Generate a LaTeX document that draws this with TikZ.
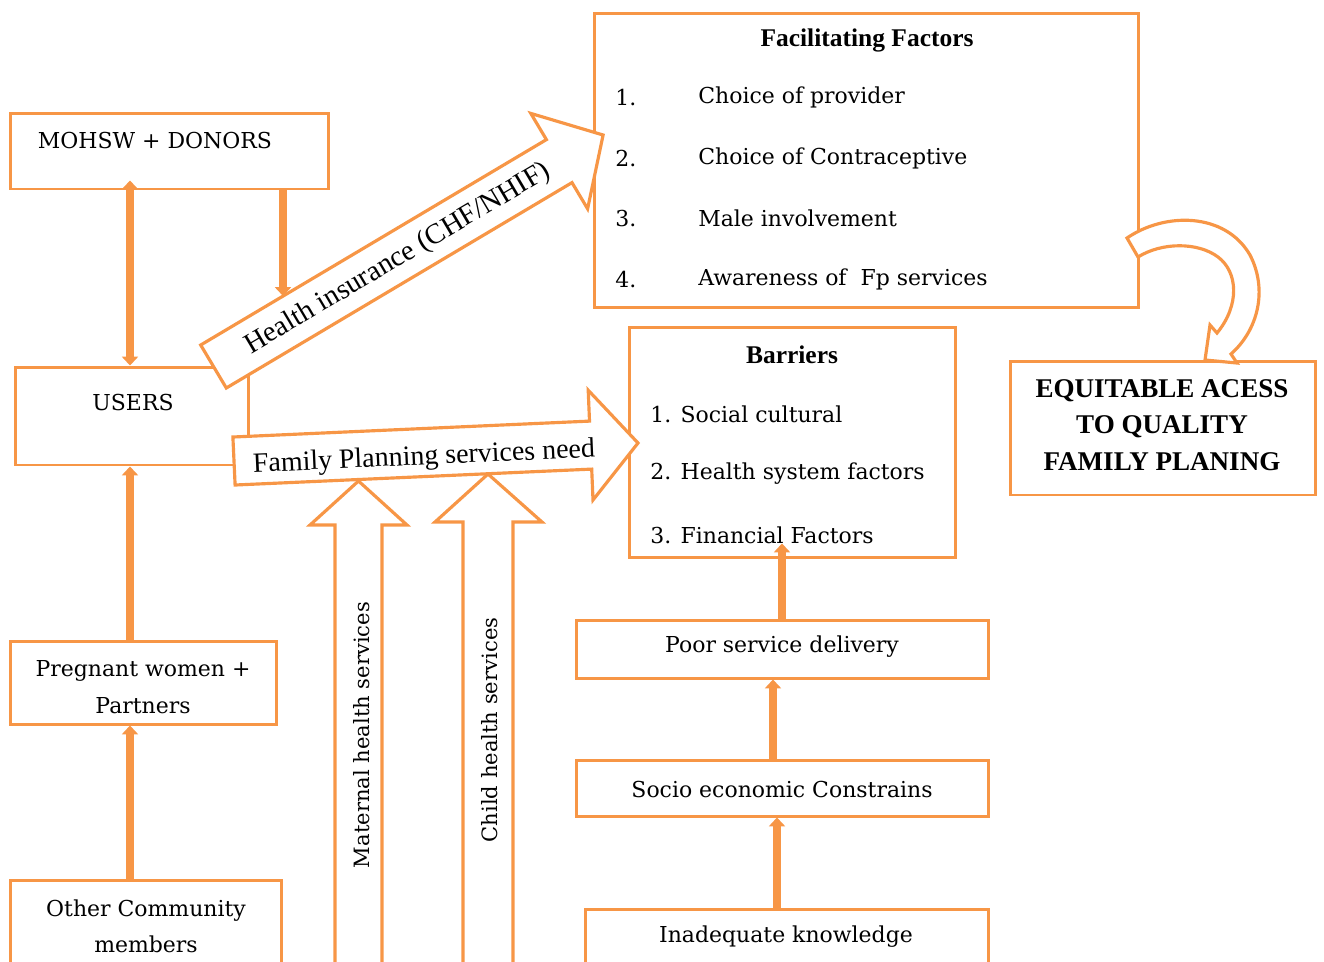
\documentclass[tikz,border=0pt]{standalone}
\usepackage{fontspec}
\setmainfont{DejaVu Serif}
\newfontfamily\tnr{Liberation Serif}
\usetikzlibrary{arrows.meta,calc}
\definecolor{org}{HTML}{F79646}
\begin{document}
\begin{tikzpicture}[x=0.02cm,y=-0.02cm,
  box/.style={draw=org, line width=1.7pt, fill=white, inner sep=0pt},
  tip/.tip={Triangle[width=9pt,length=5pt]},
  conn/.style={draw=org, line width=4pt, -tip},
  blk/.style={draw=org, line width=1.8pt, fill=white, line join=miter},
  txt/.style={inner sep=0pt, text=black, font=\fontsize{12.5}{21}\selectfont},
  ttl/.style={inner sep=0pt, text=black, font=\tnr\bfseries\fontsize{14.5}{17}\selectfont},
  ]
\useasboundingbox (0,0) rectangle (1324,961);

% boxes
\node[box, minimum width=6.38cm, minimum height=1.52cm] (mohsw) at (169.5,151) {};
\node[box, minimum width=4.68cm, minimum height=1.96cm] (users) at (132,416) {};
\node[box, minimum width=5.34cm, minimum height=1.66cm] (preg) at (143.5,682.5) {};
\node[box, minimum width=5.44cm, minimum height=2.0cm] (other) at (146,930) {};
\node[box, minimum width=10.9cm, minimum height=5.9cm] (fac) at (866.5,160.5) {};
\node[box, minimum width=6.54cm, minimum height=4.62cm] (bar) at (792.5,442.5) {};
\node[box, minimum width=6.12cm, minimum height=2.68cm] (eq) at (1163,428) {};
\node[box, minimum width=8.26cm, minimum height=1.16cm] (poor) at (782.5,649) {};
\node[box, minimum width=8.26cm, minimum height=1.12cm] (socio) at (782.5,788) {};
\node[box, minimum width=8.08cm, minimum height=1.4cm] (inad) at (787,944) {};

% box texts
\node[txt] (tmohsw) at (155,140) {MOHSW + DONORS};
\node[txt] (tusers) at (133,402) {USERS};
\node[txt, align=center] (tpreg) at (143,687) {Pregnant women +\\Partners};
\node[txt, align=center, font=\fontsize{12.5}{20.5}\selectfont] (tother) at (146,926) {Other Community\\members};

\node[ttl] (tfac) at (867,40) {Facilitating Factors};
\node[txt, anchor=west] (f1n) at (615,97) {1.};
\node[txt, anchor=west] (f2n) at (615,158) {2.};
\node[txt, anchor=west] (f3n) at (615,218) {3.};
\node[txt, anchor=west] (f4n) at (615,279) {4.};
\node[txt, anchor=west] (f1) at (698,97) {Choice of provider};
\node[txt, anchor=west] (f2) at (698,158) {Choice of Contraceptive};
\node[txt, anchor=west] (f3) at (698,218) {Male involvement};
\node[txt, anchor=west] (f4) at (698,279) {Awareness of\ \ Fp services};

\node[ttl] (tbar) at (792,355) {Barriers};
\node[txt, anchor=west] (b1) at (650,414) {1. Social cultural};
\node[txt, anchor=west] (b2) at (650,474) {2. Health system factors};
\node[txt, anchor=west] (b3) at (650,535) {3. Financial Factors};

\node[inner sep=0pt, align=center, font=\tnr\bfseries\fontsize{15.4}{20.8}\selectfont] (teq) at (1162,425)
  {EQUITABLE ACESS\\TO QUALITY\\FAMILY PLANING};

\node[txt] (tpoor) at (782,647) {Poor service delivery};
\node[txt] (tsocio) at (782,789) {Socio economic Constrains};
\node[txt] (tinad) at (786,937) {Inadequate knowledge};

% thin connectors
\coordinate (c130) at (130,0);
\coordinate (hiIn) at (283,296);
\coordinate (c782) at (782,0);
\coordinate (c773) at (773,0);
\coordinate (c777) at (777,0);
\draw[conn, tip-tip] ($(mohsw.south -| c130)+(0,-10)$) -- (users.north -| c130);
\draw[conn] (mohsw.south -| hiIn) -- (hiIn);
\draw[conn] (preg.north -| c130) -- (users.south -| c130);
\draw[conn] (other.north -| c130) -- (preg.south -| c130);
\draw[conn] (poor.north -| c782) -- ($(bar.south -| c782)+(0,-16)$);
\draw[conn] (socio.north -| c773) -- (poor.south -| c773);
\draw[conn] (inad.north -| c777) -- (socio.south -| c777);

% vertical block arrows
\draw[blk] (335,985) -- (335,525) -- (310,525) -- (358.5,481) -- (407,525) -- (382,525) -- (382,985) -- cycle;
\draw[blk] (463,985) -- (463,522) -- (435,522) -- (488,474) -- (542,522) -- (513,522) -- (513,985) -- cycle;
\node[inner sep=0pt, rotate=90, font=\fontsize{12}{14}\selectfont] (tmat) at (362,735) {Maternal health services};
\node[inner sep=0pt, rotate=90, font=\fontsize{12}{14}\selectfont] (tchild) at (490,730) {Child health services};

% health insurance arrow
\draw[blk] (200.7,345) -- (546.4,139.6) -- (530.8,113.4) -- (603.1,135) -- (587.6,208.8) -- (572,182.6) -- (226.3,388) -- cycle;
\node[inner sep=0pt, rotate=30.7, font=\tnr\fontsize{16.3}{18}\selectfont] (thi) at (398,259) {Health insurance (CHF/NHIF)};

% family planning arrow
\draw[blk] (232.9,437) -- (589.5,421.1) -- (588.2,390.2) -- (638,443) -- (593,500) -- (591.7,469.1) -- (235.1,485) -- cycle;
\node[inner sep=0pt, rotate=2.55, font=\tnr\fontsize{15.9}{18}\selectfont] (tfp) at (424,458) {Family Planning services need};

% curved arrow
\draw[blk] (1127,238) .. controls (1165,212) and (1225,212) .. (1250,255)
  .. controls (1268,290) and (1258,330) .. (1231,354) -- (1237,363) -- (1205,360) -- (1210,325) -- (1217,333)
  .. controls (1240,305) and (1238,272) .. (1218,257)
  .. controls (1198,242) and (1162,242) .. (1138,257) -- cycle;
\end{tikzpicture}
\end{document}
